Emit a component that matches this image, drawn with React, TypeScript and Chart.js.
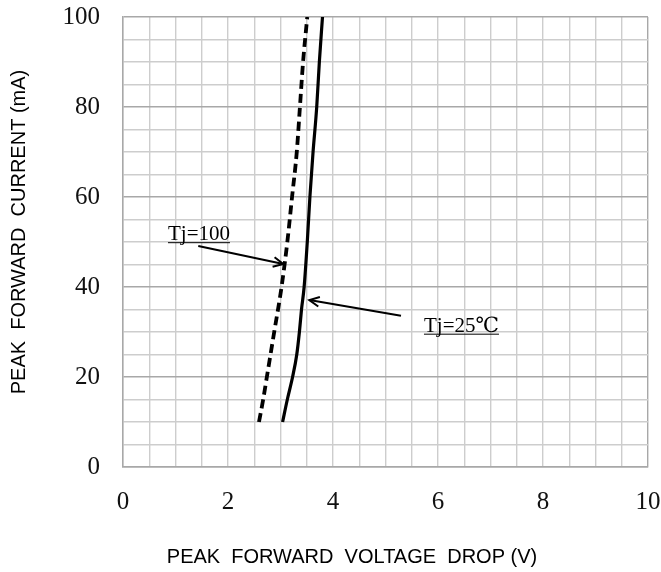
import React, { useEffect, useRef } from "react";
import { Chart, registerables } from "chart.js";

Chart.register(...registerables);

// ---- data ----
const currentTj25 = [10, 15, 20, 25, 30, 35, 40, 50, 60, 70, 80, 90, 100];
const voltageTj25 = [3.04, 3.13, 3.23, 3.31, 3.36, 3.4, 3.45, 3.51, 3.56, 3.62, 3.69, 3.74, 3.8];
const currentTj100 = [10, 15, 20, 30, 40, 50, 60, 70, 80, 90, 100];
const voltageTj100 = [2.59, 2.67, 2.74, 2.88, 3.02, 3.13, 3.22, 3.31, 3.37, 3.43, 3.51];

const xLabelValues = [0, 2, 4, 6, 8, 10];
const yLabelValues = [0, 20, 40, 60, 80, 100];

const xTitle = "PEAK  FORWARD  VOLTAGE  DROP (V)";
const yTitle = "PEAK  FORWARD  CURRENT (mA)";

// annotation labels (data coordinates)
const noteTexts = ["Tj=100", "Tj=25\u2103"];
const noteTextAt = [
  [0.857, 50.4],
  [5.733, 30.07],
];
const noteArrowFrom = [
  [1.434, 49.1],
  [5.295, 33.6],
];
const noteArrowTo = [
  [3.053, 45.1],
  [3.549, 37.1],
];

const serif = "'Liberation Serif', 'DejaVu Serif', serif";
const sans = "'Liberation Sans', Arial, sans-serif";

const overlayPlugin = {
  id: "overlay",
  afterDatasetsDraw(chart: any) {
    const ctx = chart.ctx;
    const xs = chart.scales.x;
    const ys = chart.scales.y;
    ctx.save();
    ctx.fillStyle = "#000";
    ctx.strokeStyle = "#000";
    ctx.font = `21px ${serif}`;
    ctx.textAlign = "left";
    ctx.textBaseline = "alphabetic";
    for (let i = 0; i < noteTexts.length; i++) {
      const tx = xs.getPixelForValue(noteTextAt[i][0]);
      const ty = ys.getPixelForValue(noteTextAt[i][1]);
      ctx.fillText(noteTexts[i], tx, ty);
      const w = ctx.measureText(noteTexts[i]).width;
      ctx.lineWidth = 1;
      ctx.beginPath();
      ctx.moveTo(tx, ty + 2.5);
      ctx.lineTo(tx + w, ty + 2.5);
      ctx.stroke();

      const x1 = xs.getPixelForValue(noteArrowFrom[i][0]);
      const y1 = ys.getPixelForValue(noteArrowFrom[i][1]);
      const x2 = xs.getPixelForValue(noteArrowTo[i][0]);
      const y2 = ys.getPixelForValue(noteArrowTo[i][1]);
      ctx.lineWidth = 2;
      ctx.beginPath();
      ctx.moveTo(x1, y1);
      ctx.lineTo(x2, y2);
      ctx.stroke();
      const ang = Math.atan2(y2 - y1, x2 - x1);
      const L = 11;
      const spread = 0.45;
      ctx.beginPath();
      ctx.moveTo(x2 - L * Math.cos(ang - spread), y2 - L * Math.sin(ang - spread));
      ctx.lineTo(x2, y2);
      ctx.lineTo(x2 - L * Math.cos(ang + spread), y2 - L * Math.sin(ang + spread));
      ctx.stroke();
    }
    ctx.restore();
  },
  afterDraw(chart: any) {
    const ctx = chart.ctx;
    const area = chart.chartArea;
    ctx.save();
    ctx.fillStyle = "#000";
    ctx.font = `20px ${sans}`;
    ctx.textAlign = "center";
    ctx.textBaseline = "middle";
    ctx.fillText(xTitle, area.left + 229, area.bottom + 90);
    ctx.translate(19, area.top + 215);
    ctx.rotate(-Math.PI / 2);
    ctx.fillText(yTitle, 0, 0);
    ctx.restore();
  },
};

export default function App() {
  const ref = useRef<HTMLCanvasElement | null>(null);

  useEffect(() => {
    document.body.style.margin = "0";
    const canvas = ref.current;
    if (!canvas) return;
    const chart = new Chart(canvas, {
      type: "line",
      data: {
        datasets: [
          {
            label: "Tj=25",
            data: voltageTj25.map((v, i) => ({ x: v, y: currentTj25[i] })),
            borderColor: "#000",
            borderWidth: 3.2,
            pointRadius: 0,
            fill: false,
            cubicInterpolationMode: "monotone",
          },
          {
            label: "Tj=100",
            data: voltageTj100.map((v, i) => ({ x: v, y: currentTj100[i] })),
            borderColor: "#000",
            borderWidth: 3.8,
            borderDash: [9, 5],
            pointRadius: 0,
            fill: false,
            cubicInterpolationMode: "monotone",
          },
        ],
      },
      options: {
        animation: false,
        responsive: false,
        devicePixelRatio: 1,
        layout: { padding: { top: 17, right: 13, left: 0, bottom: 0 } },
        plugins: {
          legend: { display: false },
          tooltip: { enabled: false },
          title: { display: false },
        },
        scales: {
          x: {
            type: "linear",
            min: 0,
            max: 10,
            afterFit: (s: any) => {
              s.height = 105;
              s.paddingLeft = 0;
              s.paddingRight = 0;
            },
            ticks: {
              stepSize: 0.5,
              autoSkip: false,
              maxRotation: 0,
              padding: 20,
              color: "#111",
              font: { family: serif, size: 25 },
              callback: (v: any) => (xLabelValues.includes(Number(v)) ? String(v) : ""),
            },
            grid: {
              drawTicks: false,
              color: (c: any) => (c.tick && c.tick.value === 10 ? "#a8a8a8" : "#cdcdcd"),
              lineWidth: 1.4,
            },
            border: { color: "#a8a8a8", width: 1.5 },
          },
          y: {
            type: "linear",
            min: 0,
            max: 100,
            afterFit: (s: any) => {
              s.width = 123;
              s.paddingTop = 0;
              s.paddingBottom = 0;
            },
            ticks: {
              stepSize: 5,
              autoSkip: false,
              padding: 23,
              color: "#111",
              font: { family: serif, size: 25 },
              callback: (v: any) => (yLabelValues.includes(Number(v)) ? String(v) : ""),
            },
            grid: {
              drawTicks: false,
              color: (c: any) => (c.tick && c.tick.value % 20 === 0 ? "#a8a8a8" : "#cdcdcd"),
              lineWidth: 1.4,
            },
            border: { color: "#a8a8a8", width: 1.5 },
          },
        },
      },
      plugins: [overlayPlugin],
    } as any);
    return () => chart.destroy();
  }, []);

  return (
    <div style={{ width: 661, height: 572 }}>
      <canvas ref={ref} width={661} height={572} style={{ display: "block" }} />
    </div>
  );
}
